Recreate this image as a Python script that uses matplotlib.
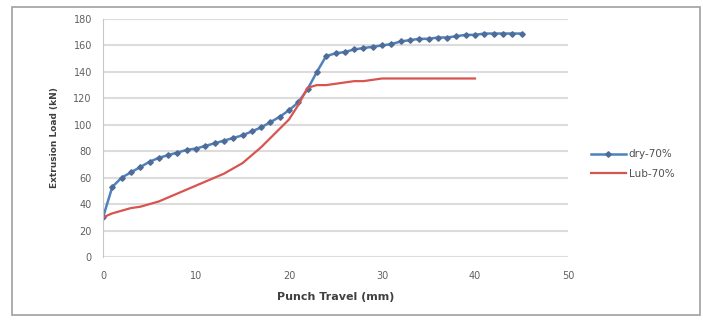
import matplotlib
matplotlib.use("Agg")
import matplotlib.pyplot as plt
from matplotlib.patches import Rectangle

dry_x = list(range(0, 46))
dry_y = [30, 53, 60, 64, 68, 72, 75, 77, 79, 81, 82, 84, 86, 88, 90, 92, 95, 98,
         102, 106, 111, 117, 127, 140, 152, 154, 155, 157, 158, 159, 160, 161, 163,
         164, 165, 165, 166, 166, 167, 168, 168, 169, 169, 169, 169, 169]
lub_x = list(range(0, 41))
lub_y = [30, 33, 35, 37, 38, 40, 42, 45, 48, 51, 54, 57, 60, 63, 67, 71, 77, 83,
         90, 97, 104, 115, 128, 130, 130, 131, 132, 133, 133, 134, 135, 135, 135,
         135, 135, 135, 135, 135, 135, 135, 135]
x_ticks = [0, 10, 20, 30, 40, 50]
y_ticks = [0, 20, 40, 60, 80, 100, 120, 140, 160, 180]

fig = plt.figure(figsize=(7.03, 3.22), dpi=100)
fig.patches.append(Rectangle((12/703, 1-315/322), (700-12)/703, (315-7)/322,
                             transform=fig.transFigure, fill=False,
                             edgecolor="#a0a0a0", linewidth=1.2))
ax = fig.add_axes([103/703, 1-257/322, (568-103)/703, (257-19)/322])

ax.plot(dry_x, dry_y, color="#4F81BD", linewidth=1.8, marker="D", markersize=2.8,
        markerfacecolor="#4F6C98", markeredgecolor="#4F6C98", label="dry-70%")
ax.plot(lub_x, lub_y, color="#D9534F", linewidth=1.6, label="Lub-70%")

ax.set_xlim(0, 50)
ax.set_ylim(0, 180)
ax.set_xticks(x_ticks)
ax.set_yticks(y_ticks)
ax.grid(axis="y", color="#dcdcdc", linewidth=1.5)
ax.set_axisbelow(True)
for s in ["top", "right", "bottom"]:
    ax.spines[s].set_visible(False)
ax.spines["left"].set_color("#c8c8c8")
ax.tick_params(length=0, labelsize=7, colors="#606060", pad=8)
ax.tick_params(axis="x", pad=10)
ax.set_xlabel("Punch Travel (mm)", fontsize=8, fontweight="bold", color="#404040", labelpad=8)
ax.set_ylabel("Extrusion Load (kN)", fontsize=6.5, fontweight="bold", color="#404040", labelpad=10)

ax.legend(loc="center left", bbox_to_anchor=(1.05, 0.39), frameon=False,
          fontsize=7.5, labelcolor="#505050", handlelength=3.3, handletextpad=0.3,
          borderpad=0, borderaxespad=0, labelspacing=0.9)

fig.savefig("out.png", dpi=100)
